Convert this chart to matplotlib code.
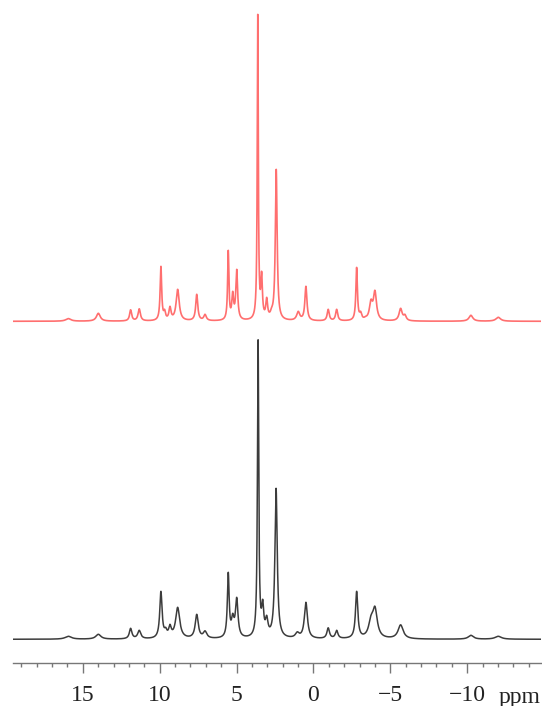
import numpy as np
import matplotlib
matplotlib.use("Agg")
import matplotlib.pyplot as plt

# peak list of the lower (black) spectrum: shift in ppm, apparent height, half width in ppm
black_ppm = [15.94, 13.99, 11.89, 11.33, 9.92, 9.61, 9.33, 8.83, 7.59, 7.05,
             5.54, 5.25, 4.99, 3.60, 3.30, 3.04, 2.43, 1.05, 0.49, -0.96,
             -1.51, -2.81, -3.07, -3.74, -4.00, -5.67, -10.24, -12.02]
black_height = [3, 5, 11, 9, 48, 12, 15, 32, 25, 8.5,
                67, 26, 42, 300, 40, 24, 151, 7.5, 37, 11.5,
                9, 48, 7, 24, 33, 14.5, 4, 3]
black_width = [0.25, 0.2, 0.1, 0.12, 0.09, 0.1, 0.1, 0.16, 0.12, 0.14,
               0.07, 0.1, 0.1, 0.05, 0.08, 0.1, 0.09, 0.15, 0.12, 0.1,
               0.1, 0.09, 0.12, 0.18, 0.18, 0.2, 0.2, 0.25]

# peak list of the upper (red) spectrum
red_ppm = [15.94, 13.99, 11.89, 11.33, 9.92, 9.68, 9.33, 8.83, 7.59, 7.05,
           5.54, 5.25, 4.99, 3.62, 3.37, 3.04, 2.72, 2.42, 0.99, 0.49,
           -0.96, -1.51, -2.81, -3.07, -3.39, -3.74, -4.00, -5.67, -5.95,
           -10.24, -12.02]
red_height = [2.7, 8, 11.5, 12.5, 55, 12, 15, 32, 27, 7,
              71, 30, 52, 307, 50, 24, 14, 152, 10, 35,
              12, 12, 54, 10, 5, 22, 31, 13, 7,
              6, 4]
red_width = [0.2, 0.15, 0.08, 0.09, 0.06, 0.07, 0.08, 0.12, 0.08, 0.1,
             0.05, 0.07, 0.07, 0.04, 0.06, 0.07, 0.1, 0.07, 0.12, 0.08,
             0.08, 0.08, 0.06, 0.08, 0.1, 0.12, 0.12, 0.12, 0.1,
             0.15, 0.18]

red_offset = 318
ppm_left, ppm_right = 19.54, -14.8


def lorentz(x, x0, w):
    return w**2 / ((x - x0)**2 + w**2)


def spectrum(x, pos, height, width):
    pos = np.array(pos, float)
    height = np.array(height, float)
    width = np.array(width, float)
    # overlap matrix: amplitude j seen at centre i
    m = lorentz(pos[:, None], pos[None, :], width[None, :])
    amp = height.copy()
    for _ in range(200):
        amp = np.clip(height - (m @ amp - amp), 0, None)
    return (amp[None, :] * lorentz(x[:, None], pos[None, :], width[None, :])).sum(axis=1)


def main():
    x = np.linspace(ppm_left, ppm_right, 6000)
    y_black = spectrum(x, black_ppm, black_height, black_width)
    y_red = spectrum(x, red_ppm, red_height, red_width)

    fig = plt.figure(figsize=(5.42, 7.06), dpi=100)
    bottom = (706 - 662.7) / 706
    top_px = 5
    ax = fig.add_axes([13 / 542, bottom, 528 / 542, (662.7 - top_px) / 706])

    ax.plot(x, y_black, color='#3c3c3c', lw=1.1)
    ax.plot(x, y_red + red_offset, color='#ff6f6f', lw=1.2)

    ax.set_xlim(ppm_left, ppm_right)
    ax.set_ylim(-23.4, 639.3 - top_px)

    for s in ['left', 'right', 'top']:
        ax.spines[s].set_visible(False)
    ax.spines['bottom'].set_color('#777777')
    ax.spines['bottom'].set_linewidth(1.0)
    ax.set_yticks([])

    ax.set_xticks([15, 10, 5, 0, -5, -10])
    ax.set_xticks(np.arange(-14, 20, 1), minor=True)
    ax.tick_params(axis='x', which='major', length=7.5, width=1.0, color='#777777',
                   pad=8.5, labelsize=17, labelcolor='#222222')
    ax.tick_params(axis='x', which='minor', length=2.6, width=1.0, color='#777777')
    for lab in ax.get_xticklabels():
        lab.set_family('Liberation Serif')

    fig.text(520 / 542, 3.5 / 706, 'ppm', ha='center', va='baseline',
             fontsize=17, family='Liberation Serif', color='#222222')

    fig.savefig('out.png', dpi=100)


if __name__ == '__main__':
    main()
